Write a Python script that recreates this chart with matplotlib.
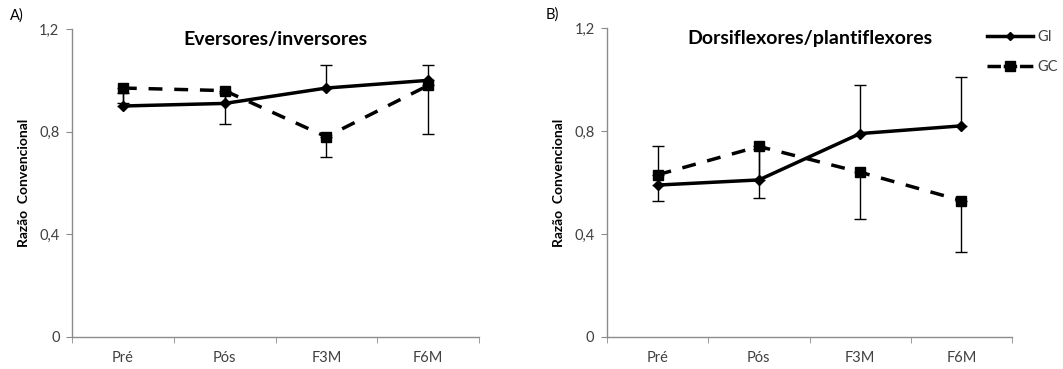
import matplotlib
matplotlib.use("Agg")
import matplotlib.pyplot as plt
from matplotlib.lines import Line2D
import numpy as np

categories = ["Pré", "Pós", "F3M", "F6M"]
yticks = [0, 0.4, 0.8, 1.2]
ytick_labels = ["0", "0,4", "0,8", "1,2"]

# Panel A - Eversores/inversores
a_gi = [0.90, 0.91, 0.97, 1.00]
a_gi_err_up = [0.05, 0.04, 0.09, 0.06]
a_gc = [0.97, 0.96, 0.78, 0.98]
a_gc_err_down = [0.06, 0.13, 0.08, 0.19]

# Panel B - Dorsiflexores/plantiflexores
b_gi = [0.59, 0.61, 0.79, 0.82]
b_gi_err_up = [0.15, 0.12, 0.19, 0.19]
b_gc = [0.63, 0.74, 0.64, 0.53]
b_gc_err_down = [0.10, 0.20, 0.18, 0.20]

plt.rcParams['font.family'] = ['Lato', 'DejaVu Sans']

fig = plt.figure(figsize=(10.63, 3.69), dpi=100)
axA = fig.add_axes([72/1063, 32/369, 407/1063, 308/369])
axB = fig.add_axes([607/1063, 32/369, 405/1063, 309/369])

x = np.arange(len(categories)) + 0.5
gray = "#8c8c8c"
LW = 2.5
dash = (0, (4.0, 3.4))

def draw(ax, gi, gi_up, gc, gc_down, title, letter):
    ax.errorbar(x, gi, yerr=[np.zeros(len(gi)), gi_up], color="black", lw=LW,
                marker="D", ms=5, elinewidth=1.0, capsize=4, capthick=1.0,
                zorder=3)
    ax.errorbar(x, gc, yerr=[gc_down, np.zeros(len(gc))], color="black", lw=LW,
                ls=dash, marker="s", ms=7.5, elinewidth=1.0, capsize=4,
                capthick=1.0, zorder=3)
    ax.set_xlim(0, 4)
    ax.set_ylim(0, 1.2)
    ax.set_yticks(yticks)
    ax.set_yticklabels(ytick_labels, color="#404040", fontsize=10.5)
    ax.set_xticks(x)
    ax.set_xticklabels(categories, color="#404040", fontsize=10.5)
    ax.set_xticks(np.arange(0, 5), minor=True)
    ax.tick_params(axis="x", which="major", length=0, pad=10)
    ax.tick_params(axis="x", which="minor", length=4, color=gray, direction="out")
    ax.tick_params(axis="y", length=4, color=gray, direction="out", pad=5)
    for s in ["top", "right"]:
        ax.spines[s].set_visible(False)
    for s in ["left", "bottom"]:
        ax.spines[s].set_color(gray)
        ax.spines[s].set_linewidth(1.0)
    ax.set_ylabel("Razão  Convencional", fontsize=10, fontweight="bold", labelpad=7)
    ax.text(0.5, 0.965, title, transform=ax.transAxes, ha="center", va="center",
            fontsize=14, fontweight="bold")
    ax.text(-0.152, 1.045, letter, transform=ax.transAxes, ha="left", va="center",
            fontsize=10.5)

draw(axA, a_gi, a_gi_err_up, a_gc, a_gc_err_down, "Eversores/inversores", "A)")
draw(axB, b_gi, b_gi_err_up, b_gc, b_gc_err_down, "Dorsiflexores/plantiflexores", "B)")

handles = [
    Line2D([], [], color="black", lw=LW, marker="D", ms=4.5),
    Line2D([], [], color="black", lw=LW, ls=(0, (3.87, 0.8)), marker="s", ms=6.5),
]
leg = axB.legend(handles, ["GI", "GC"], loc="upper left",
                 bbox_to_anchor=(0.905, 1.035), frameon=False, fontsize=10.5,
                 handlelength=3.15, labelspacing=1.1, handletextpad=0.3)
for t in leg.get_texts():
    t.set_color("#404040")

fig.savefig("out.png", dpi=100)
